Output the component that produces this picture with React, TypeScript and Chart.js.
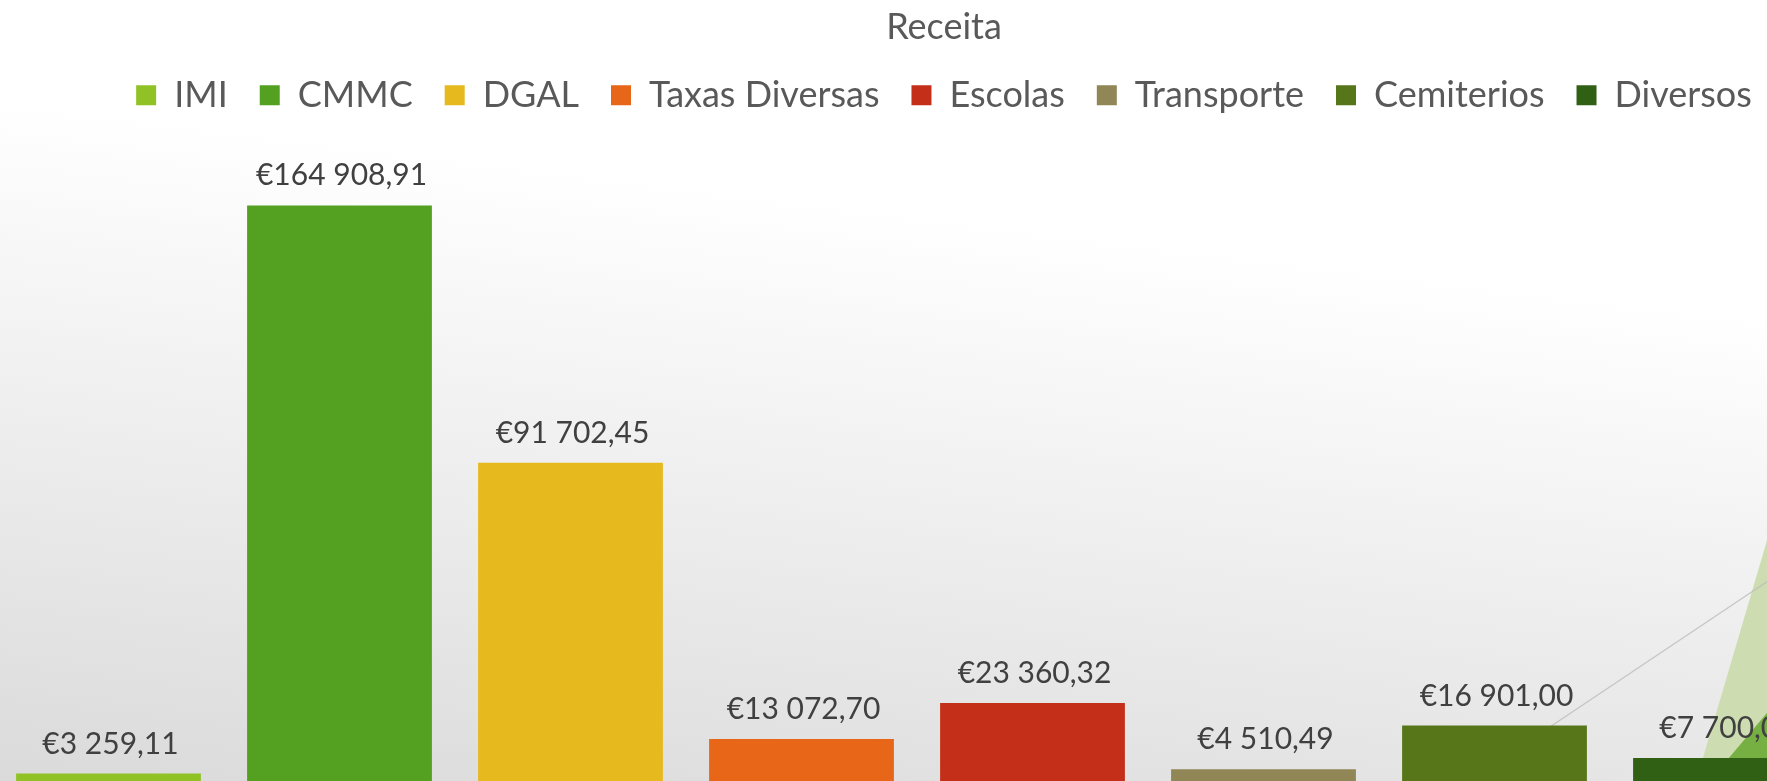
import { useEffect, useRef } from 'react';
import { Chart, registerables } from 'chart.js';

Chart.register(...registerables);

const categories = ['IMI', 'CMMC', 'DGAL', 'Taxas Diversas', 'Escolas', 'Transporte', 'Cemiterios', 'Diversos'];
const receita = [3259.11, 164908.91, 91702.45, 13072.7, 23360.32, 4510.49, 16901.0, 7700.0];
const barColors = ['#90C226', '#54A021', '#E6B91E', '#E76618', '#C42F1A', '#918655', '#567619', '#306014'];
const chartTitle = 'Receita';

const FONT = 'Lato';

function fmtEuro(v: number): string {
  const [i, d] = v.toFixed(2).split('.');
  const grouped = i.replace(/\B(?=(\d{3})+(?!\d))/g, ' ');
  return '€' + grouped + ',' + d;
}

const bgPlugin = {
  id: 'slideBackground',
  beforeDraw(chart: any) {
    const { ctx, width, height } = chart;
    const g = ctx.createLinearGradient(7, 100, -79, 793);
    g.addColorStop(0, '#ffffff');
    g.addColorStop(1, '#d9d9d9');
    ctx.save();
    ctx.fillStyle = g;
    ctx.fillRect(0, 0, width, height);
    ctx.restore();
  },
};

const decoPlugin = {
  id: 'slideDecoration',
  beforeDatasetsDraw(chart: any) {
    const { ctx } = chart;
    ctx.save();
    ctx.fillStyle = '#CEDDB1';
    ctx.beginPath();
    ctx.moveTo(1702, 785);
    ctx.lineTo(1790, 486);
    ctx.lineTo(1790, 785);
    ctx.closePath();
    ctx.fill();
    ctx.fillStyle = '#76B043';
    ctx.beginPath();
    ctx.moveTo(1713, 785);
    ctx.lineTo(1790, 694);
    ctx.lineTo(1790, 785);
    ctx.closePath();
    ctx.fill();
    ctx.strokeStyle = 'rgba(185,185,185,0.75)';
    ctx.lineWidth = 1.5;
    ctx.beginPath();
    ctx.moveTo(1500, 765);
    ctx.lineTo(1790, 571);
    ctx.stroke();
    ctx.restore();
  },
};

const labelPlugin = {
  id: 'barValueLabels',
  afterDatasetsDraw(chart: any) {
    const { ctx } = chart;
    const meta = chart.getDatasetMeta(0);
    ctx.save();
    ctx.font = `30px ${FONT}`;
    ctx.fillStyle = '#404040';
    ctx.textAlign = 'center';
    ctx.textBaseline = 'alphabetic';
    meta.data.forEach((el: any, i: number) => {
      ctx.fillText(fmtEuro(receita[i]), el.x + 2, el.y - 20);
    });
    ctx.restore();
  },
};

export default function App() {
  const canvasRef = useRef<HTMLCanvasElement | null>(null);

  useEffect(() => {
    document.body.style.margin = '0';
    document.body.style.overflow = 'hidden';
    let chart: Chart | null = null;
    let cancelled = false;
    const make = () => {
      if (cancelled || !canvasRef.current) return;
      chart = new Chart(canvasRef.current, {
        type: 'bar',
        data: {
          labels: categories,
          datasets: [
            {
              label: chartTitle,
              data: receita,
              backgroundColor: barColors,
              borderWidth: 0,
              categoryPercentage: 1,
              barPercentage: 0.8,
            },
          ],
        },
        options: {
          responsive: false,
          animation: false,
          layout: { padding: 0 },
          events: [],
          plugins: {
            title: {
              display: true,
              text: chartTitle,
              color: '#595959',
              font: { family: FONT, size: 36, weight: 'normal', lineHeight: 0.8 },
              padding: { top: 12.5, bottom: 4 },
            },
            legend: {
              display: true,
              position: 'top',
              labels: {
                color: '#595959',
                font: { family: FONT, size: 36 },
                boxWidth: 20,
                boxHeight: 20,
                padding: 32,
                generateLabels: () =>
                  categories.map((c, i) => ({
                    text: c,
                    fillStyle: barColors[i],
                    strokeStyle: barColors[i],
                    lineWidth: 0,
                    hidden: false,
                    index: i,
                    fontColor: '#595959',
                  })),
              },
            },
            tooltip: { enabled: false },
          },
          scales: {
            x: { display: false, offset: true, grid: { display: false } },
            y: {
              position: 'right',
              min: 0,
              max: 188290,
              grid: { display: false },
              border: { display: false },
              ticks: { display: false },
              afterFit: (s: any) => {
                s.width = 54;
              },
            },
          },
        },
        plugins: [bgPlugin, decoPlugin, labelPlugin],
      });
    };
    const fonts = (document as any).fonts;
    if (fonts && fonts.load) {
      Promise.all([fonts.load(`36px ${FONT}`), fonts.load(`30px ${FONT}`)])
        .catch(() => {})
        .then(make);
    } else {
      make();
    }
    return () => {
      cancelled = true;
      if (chart) chart.destroy();
    };
  }, []);

  return (
    <div style={{ position: 'relative', width: 1767, height: 781, overflow: 'hidden' }}>
      <div style={{ position: 'absolute', left: -7, top: 0, width: 1902, height: 785 }}>
        <canvas ref={canvasRef} width={1902} height={785} style={{ width: 1902, height: 785, display: 'block' }} />
      </div>
    </div>
  );
}
